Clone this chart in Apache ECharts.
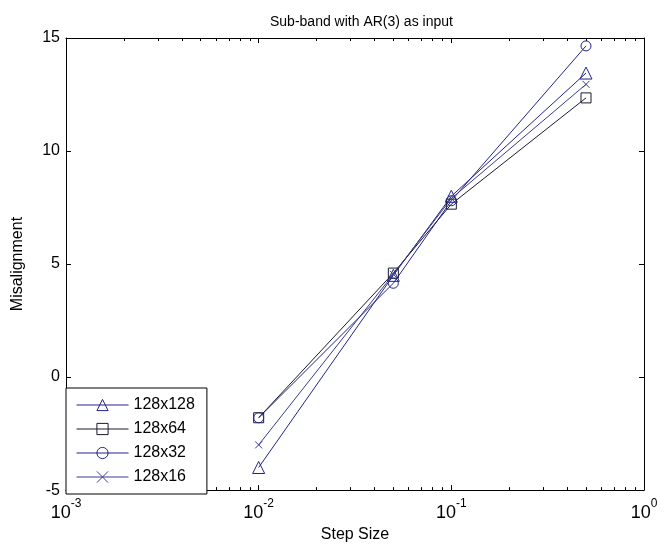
<!DOCTYPE html>
<html>
<head>
<meta charset="utf-8">
<script src="https://cdn.jsdelivr.net/npm/echarts@6/dist/echarts.min.js"></script>
<style>html,body{margin:0;padding:0;background:#fff}#c{width:665px;height:548px}</style>
</head>
<body>
<div id="c"></div>
<script>
var stepSizes = [0.01, 0.05, 0.1, 0.5];
var s128x128 = [-4.0, 4.5, 8.0, 13.45];
var s128x64 = [-1.8, 4.6, 7.65, 12.35];
var s128x32 = [-1.8, 4.15, 7.8, 14.65];
var s128x16 = [-3.0, 4.55, 7.9, 12.95];
var seriesNames = ['128x128', '128x64', '128x32', '128x16'];
var xMajor = [0.001, 0.01, 0.1, 1];
var xMinor = [0.002,0.003,0.004,0.005,0.006,0.007,0.008,0.009,0.02,0.03,0.04,0.05,0.06,0.07,0.08,0.09,0.2,0.3,0.4,0.5,0.6,0.7,0.8,0.9];
var yTicks = [-5, 0, 5, 10, 15];

var font = 'Liberation Sans, Arial, sans-serif';
var navy = '#23238a';
var xSym = 'path://M0,0L10,10M10,0L0,10';

function pairs(vals){ return stepSizes.map(function(x,i){ return [x, vals[i]]; }); }
function mk(name, vals, symbol, size, color){
  return {
    name: name, type: 'line', data: pairs(vals), symbol: symbol, symbolSize: size,
    showAllSymbol: true,
    lineStyle: {color: color, width: 1},
    itemStyle: {color: 'rgba(255,255,255,0)', borderColor: color, borderWidth: 1},
    emphasis: {disabled: true}, animation: false
  };
}
var exps = {0.001: '-3', 0.01: '-2', 0.1: '-1', 1: '0'};
var baseX = {type: 'log', logBase: 10, min: 0.001, max: 1, gridIndex: 0,
  axisLine: {show: true, onZero: false, lineStyle: {color: '#000', width: 1}}, splitLine: {show: false}};
var chart = echarts.init(document.getElementById('c'), null, {renderer: 'canvas'});
chart.setOption({
  animation: false,
  backgroundColor: '#fff',
  title: {text: 'Sub-band with AR(3) as input', left: 265, top: 10,
    textStyle: {fontFamily: font, fontSize: 14, fontWeight: 'normal', color: '#000'}},
  grid: {left: 66, right: 21, top: 38, bottom: 54, show: false},
  legend: {
    orient: 'vertical', left: 66, bottom: 54, itemWidth: 52, itemHeight: 14, itemGap: 8,
    padding: [9, 12, 9, 10], borderColor: '#000', borderWidth: 1, backgroundColor: '#fff',
    textStyle: {fontFamily: font, fontSize: 16, color: '#000'},
    lineStyle: {width: 1}, itemStyle: {borderWidth: 1},
    data: seriesNames
  },
  xAxis: [
    Object.assign({}, baseX, {position: 'bottom', name: 'Step Size', nameLocation: 'middle', nameGap: 34,
      nameTextStyle: {fontFamily: font, fontSize: 16, color: '#000'},
      axisTick: {show: true, inside: true, length: 5, lineStyle: {color: '#000'}},
      axisLabel: {show: true, margin: 8, fontFamily: font, color: '#000',
        formatter: function(v){ var e = exps[v]; if (e === undefined) { var k = Math.round(Math.log10(v)); e = String(k); } return '{b|10}{s|' + e + '}'; },
        rich: {b: {fontFamily: font, fontSize: 18, color: '#000', padding: [6,0,0,0]}, s: {fontFamily: font, fontSize: 12, color: '#000', verticalAlign: 'top', padding: [0,0,8,0]}}}}),
    Object.assign({}, baseX, {position: 'bottom', axisLine: {show: false, onZero: false},
      axisTick: {show: true, inside: true, length: 3, customValues: xMinor, lineStyle: {color: '#000'}},
      axisLabel: {show: false}}),
    Object.assign({}, baseX, {position: 'top',
      axisTick: {show: true, inside: true, length: 5, lineStyle: {color: '#000'}}, axisLabel: {show: false}}),
    Object.assign({}, baseX, {position: 'top', axisLine: {show: false, onZero: false},
      axisTick: {show: true, inside: true, length: 3, customValues: xMinor, lineStyle: {color: '#000'}},
      axisLabel: {show: false}})
  ],
  yAxis: [
    {type: 'value', min: -5, max: 15, interval: 5, position: 'left',
      name: 'Misalignment', nameLocation: 'middle', nameGap: 40,
      nameTextStyle: {fontFamily: font, fontSize: 16, color: '#000'},
      axisLine: {show: true, onZero: false, lineStyle: {color: '#000'}},
      axisTick: {show: true, inside: true, length: 5, lineStyle: {color: '#000'}},
      axisLabel: {fontFamily: font, fontSize: 16, color: '#000', margin: 6},
      splitLine: {show: false}},
    {type: 'value', min: -5, max: 15, interval: 5, position: 'right',
      axisLine: {show: true, onZero: false, lineStyle: {color: '#000'}},
      axisTick: {show: true, inside: true, length: 5, lineStyle: {color: '#000'}},
      axisLabel: {show: false}, splitLine: {show: false}}
  ],
  series: [
    mk(seriesNames[0], s128x128, 'triangle', 12, navy),
    mk(seriesNames[1], s128x64, 'rect', 10, '#1a1a30'),
    mk(seriesNames[2], s128x32, 'circle', 10, navy),
    mk(seriesNames[3], s128x16, xSym, 7, '#3a3a90')
  ]
});
</script>
</body>
</html>
